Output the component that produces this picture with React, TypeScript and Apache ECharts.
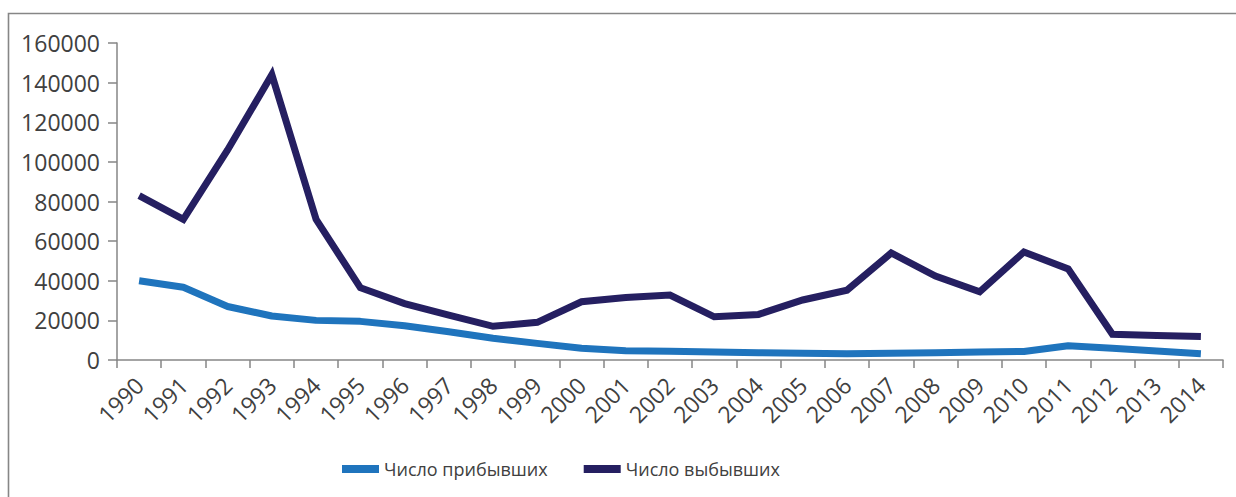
import React, { useEffect, useRef } from "react";
import * as echarts from "echarts";

const years = ["1990","1991","1992","1993","1994","1995","1996","1997","1998","1999","2000","2001","2002","2003","2004","2005","2006","2007","2008","2009","2010","2011","2012","2013","2014"];
const arrivals = [40000,36700,27000,22200,20000,19500,17300,14300,11000,8400,5900,4700,4400,4000,3700,3400,3100,3400,3700,4000,4300,7200,5900,4500,3100];
const departures = [83000,71000,106000,144000,71000,36500,28500,22700,17000,19000,29400,31500,32800,21800,23000,30300,35200,54000,42400,34400,54500,46000,13000,12400,11800];
const seriesNames = ["Число прибывших", "Число выбывших"];
const yTicks = { min: 0, max: 160000, interval: 20000 };

export default function App() {
  const ref = useRef<HTMLDivElement>(null);
  useEffect(() => {
    document.body.style.margin = "0";
    const chart = echarts.init(ref.current!, null, { renderer: "svg" });
    const font = "'Open Sans', sans-serif";
    chart.setOption({
      animation: false,
      graphic: [
        {
          type: "rect",
          shape: { x: 8.5, y: 13.5, width: 1400, height: 700 },
          style: { fill: "none", stroke: "#868686", lineWidth: 1.6 },
          silent: true,
        },
      ],
      grid: { left: 117, right: 13, top: 43, bottom: 137, containLabel: false },
      legend: {
        left: 337,
        top: 455,
        itemWidth: 37,
        itemHeight: 8,
        itemGap: 36,
        icon: "rect",
        textStyle: { fontFamily: font, fontSize: 18, color: "#404040" },
        data: seriesNames,
      },
      xAxis: {
        type: "category",
        data: years,
        boundaryGap: true,
        axisLine: { lineStyle: { color: "#868686", width: 1.5 } },
        axisTick: { show: true, length: 8, alignWithLabel: false, lineStyle: { color: "#868686", width: 1.5 } },
        axisLabel: { rotate: 45, interval: 0, margin: 21, fontFamily: font, fontSize: 23, color: "#404040" },
        splitLine: { show: false },
      },
      yAxis: {
        type: "value",
        min: yTicks.min,
        max: yTicks.max,
        interval: yTicks.interval,
        axisLine: { show: true, lineStyle: { color: "#868686", width: 1.5 } },
        axisTick: { show: true, length: 9, lineStyle: { color: "#868686", width: 1.5 } },
        axisLabel: { margin: 17, fontFamily: font, fontSize: 23, color: "#404040", formatter: (v: number) => String(v) },
        splitLine: { show: false },
      },
      series: [
        {
          name: seriesNames[0],
          type: "line",
          data: arrivals,
          smooth: false,
          symbol: "none",
          lineStyle: { color: "#1f74bd", width: 7, join: "round" },
          itemStyle: { color: "#1f74bd" },
        },
        {
          name: seriesNames[1],
          type: "line",
          data: departures,
          smooth: false,
          symbol: "none",
          lineStyle: { color: "#251f61", width: 7, join: "miter" },
          itemStyle: { color: "#251f61" },
        },
      ],
    });
    return () => chart.dispose();
  }, []);
  return <div ref={ref} style={{ width: 1236, height: 497 }} />;
}
